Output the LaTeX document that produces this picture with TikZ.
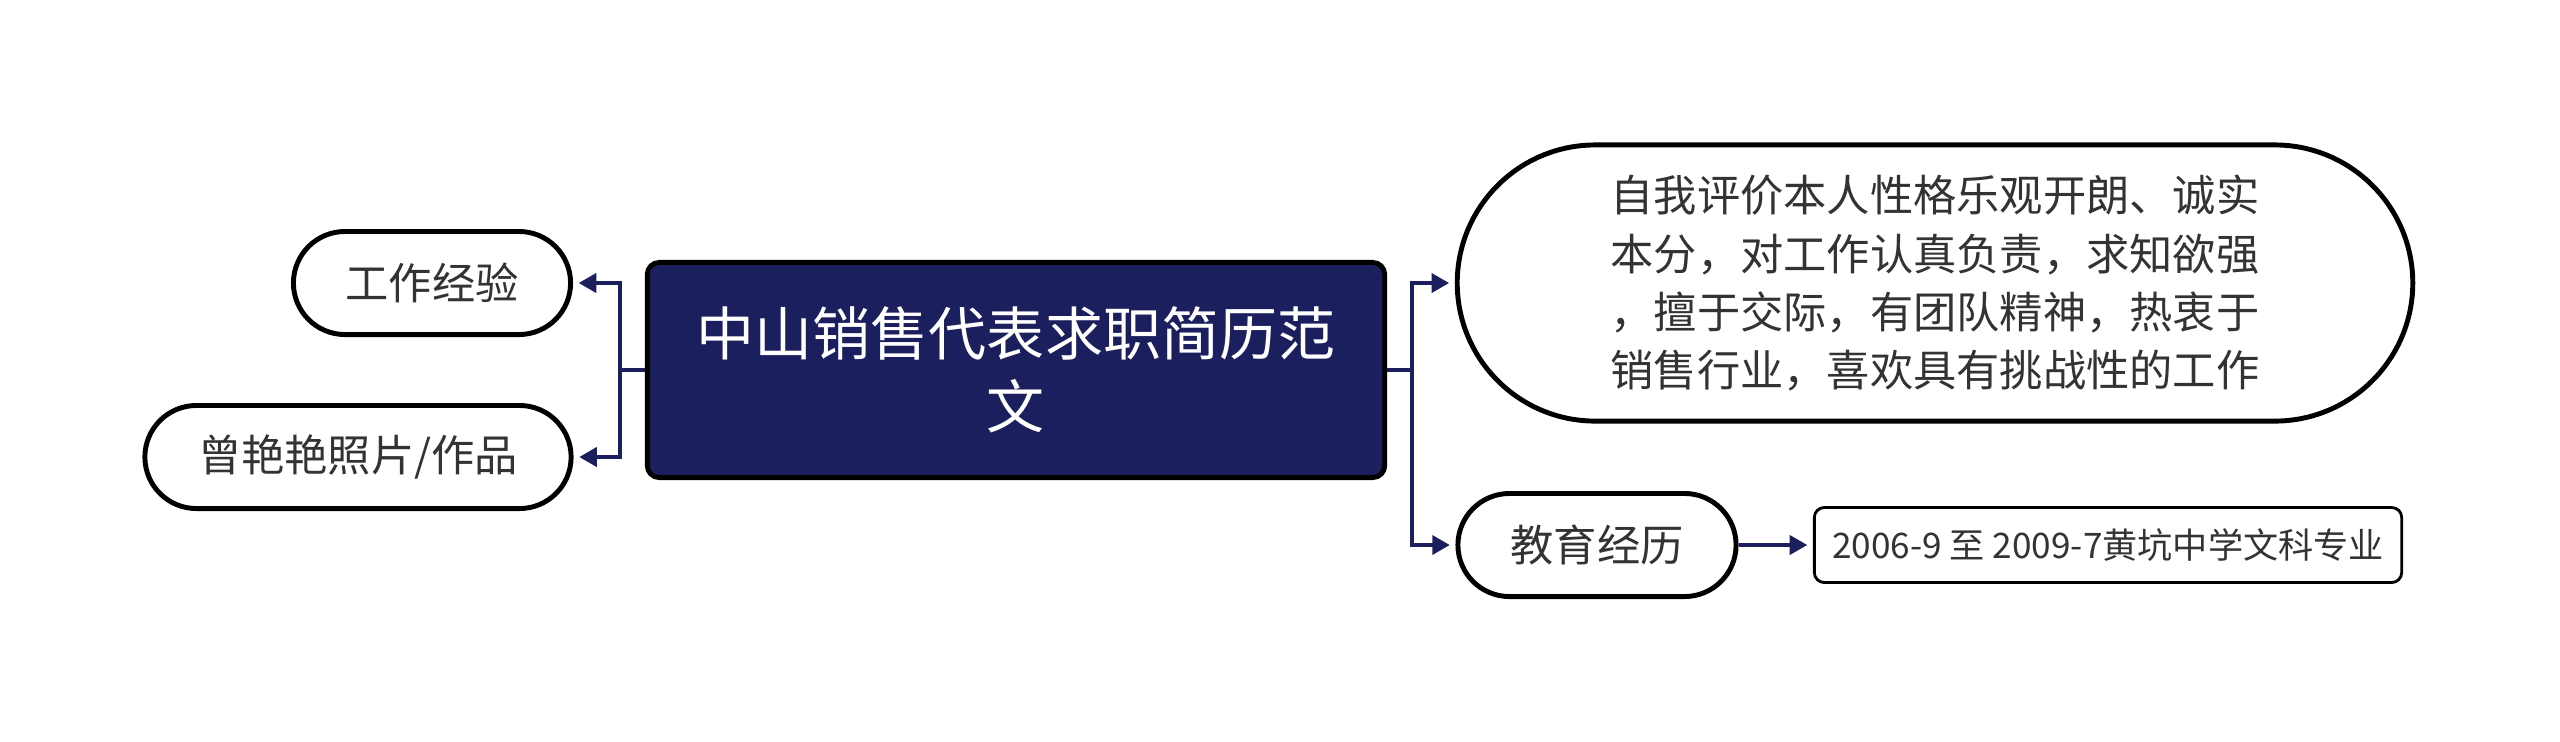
\documentclass[tikz,border=0pt]{standalone}
\definecolor{mainnavy}{RGB}{27,31,94}
\definecolor{textgray}{RGB}{51,51,51}
\usepackage{fontspec}
\setmainfont{Noto Sans CJK SC}
\usepackage{tikz}
\usepackage{xcolor}
\usetikzlibrary{shapes.misc,arrows.meta,positioning,calc}

\begin{document}
\begin{tikzpicture}[x=0.01cm,y=-0.01cm,
        topic/.style={draw=black,line width=1.4pt,rounded corners=0.12cm,fill=mainnavy,text=white,
            minimum width=7.37cm,minimum height=2.15cm,align=center,inner sep=0pt,
            font={\fontsize{16.5}{20.8}\selectfont}},
        pill/.style={draw=black,line width=1.4pt,rounded rectangle,fill=white,text=textgray,
            minimum height=1.03cm,inner sep=0pt,font={\fontsize{12.3}{16.5}\selectfont}},
        leaf/.style={draw=black,line width=0.8pt,rounded corners=0.1cm,fill=white,text=textgray,
            minimum width=5.87cm,minimum height=0.75cm,inner sep=0pt,font={\fontsize{10}{13}\selectfont}},
        link/.style={draw=mainnavy,line width=1.1pt,-{Triangle[length=5pt,width=5.4pt]},shorten >=1.6pt}]
    \useasboundingbox (0,0) rectangle (2560,741);
    % centre topic
    \node[topic] (main) at (1016,370) {中山销售代表求职简历范\\文};
    % left branches
    \node[pill,minimum width=2.77cm] (work) at (432,283) {工作经验};
    \node[pill,minimum width=4.26cm] (photo) at (358,457) {曾艳艳照片/作品};
    % right branches
    \node[pill,minimum width=9.55cm,minimum height=2.76cm,align=left] (self) at (1935,283)
        {自我评价本人性格乐观开朗、诚实\\本分，对工作认真负责，求知欲强\\，擅于交际，有团队精神，热衷于\\销售行业，喜欢具有挑战性的工作};
    \node[pill,minimum width=2.78cm] (edu) at (1597,545) {教育经历};
    \node[leaf] (school) at (2108,545) {2006-9 至 2009-7黄坑中学文科专业};
    % forks
    \coordinate (lfork) at (620,370);
    \coordinate (rfork) at (1412,370);
    \draw[link] (main.west) -- (lfork) |- (work.east);
    \draw[link] (main.west) -- (lfork) |- (photo.east);
    \draw[link] (main.east) -- (rfork) |- (self.west);
    \draw[link] (main.east) -- (rfork) |- (edu.west);
    \draw[link] (edu.east) -- (school.west);
\end{tikzpicture}
\end{document}
